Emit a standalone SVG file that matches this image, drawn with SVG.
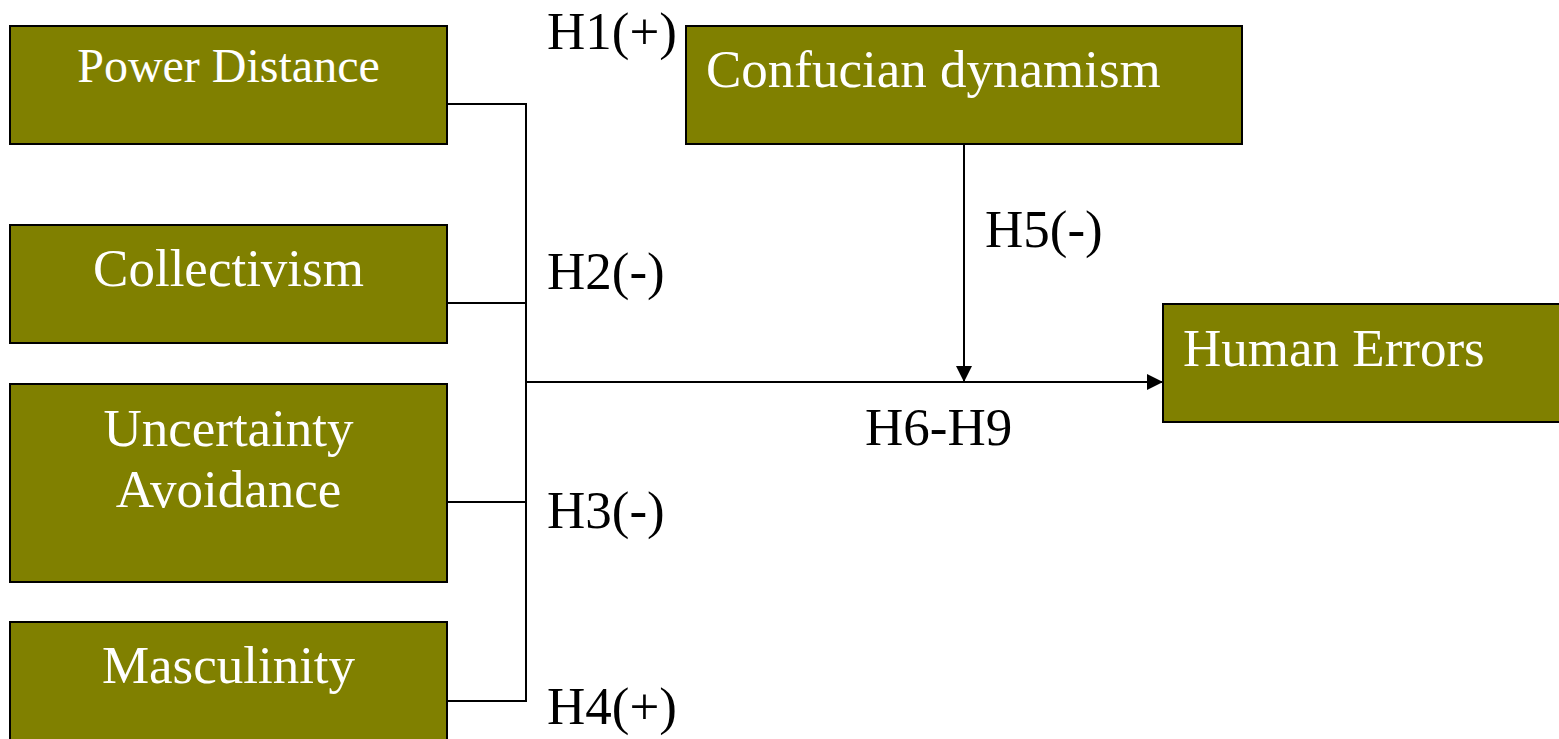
<svg xmlns="http://www.w3.org/2000/svg" width="1559" height="739" viewBox="0 0 1559 739">
<style>
.box{fill:#808000;stroke:#000;stroke-width:2}
.t{font-family:"Liberation Serif","Times New Roman",serif;font-size:53px;fill:#fff}
.lbl{font-family:"Liberation Serif","Times New Roman",serif;font-size:53px;fill:#000}
.ln{stroke:#000;stroke-width:2;fill:none}
</style>
<defs>
<marker id="arrB" viewBox="0 0 16 16" refX="16" refY="8" markerWidth="16" markerHeight="16" markerUnits="userSpaceOnUse" orient="auto">
<path d="M0,0 L16,8 L0,16 z" fill="#000"/>
</marker>
</defs>
<g id="connectors">
<path class="ln" d="M447,104 H526 V701 H447"/>
<path class="ln" d="M447,303 H526"/>
<path class="ln" d="M447,502 H526"/>
<path class="ln" d="M526,382 H1163" marker-end="url(#arrB)"/>
<path class="ln" d="M964,144 V382" marker-end="url(#arrB)"/>
</g>
<g id="power-distance">
<rect class="box" x="10" y="26" width="437" height="118"/>
<text class="t" x="228.5" y="82" text-anchor="middle" style="font-size:48px">Power Distance</text>
</g>
<g id="collectivism">
<rect class="box" x="10" y="225" width="437" height="118"/>
<text class="t" x="228.5" y="286" text-anchor="middle">Collectivism</text>
</g>
<g id="uncertainty-avoidance">
<rect class="box" x="10" y="384" width="437" height="198"/>
<text class="t" x="228.5" y="446" text-anchor="middle">Uncertainty</text>
<text class="t" x="228.5" y="507" text-anchor="middle">Avoidance</text>
</g>
<g id="masculinity">
<rect class="box" x="10" y="622" width="437" height="130"/>
<text class="t" x="228.5" y="683" text-anchor="middle">Masculinity</text>
</g>
<g id="confucian-dynamism">
<rect class="box" x="686" y="26" width="556" height="118"/>
<text class="t" x="706" y="87">Confucian dynamism</text>
</g>
<g id="human-errors">
<rect class="box" x="1163" y="304" width="410" height="118"/>
<text class="t" x="1183" y="366">Human Errors</text>
</g>
<g id="labels">
<text class="lbl" x="547" y="49">H1(+)</text>
<text class="lbl" x="547" y="289">H2(-)</text>
<text class="lbl" x="547" y="528">H3(-)</text>
<text class="lbl" x="547" y="724">H4(+)</text>
<text class="lbl" x="985" y="247">H5(-)</text>
<text class="lbl" x="865" y="445">H6-H9</text>
</g>
</svg>
